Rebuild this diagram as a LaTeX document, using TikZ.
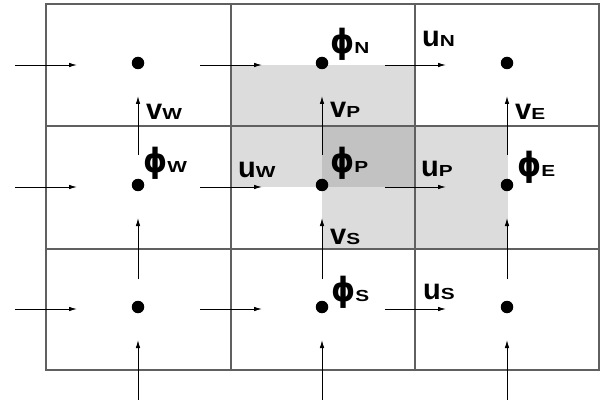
\documentclass[tikz,border=0pt]{standalone}
\usepackage{fontspec}
\setmainfont{Liberation Sans}
\newfontfamily\subf{Liberation Sans}[FakeStretch=1.3]
\newfontfamily\phif{DejaVu Sans}
\usetikzlibrary{arrows.meta}
\definecolor{gridgray}{HTML}{606060}
\definecolor{lightshade}{HTML}{DCDCDC}
\definecolor{darkshade}{HTML}{C2C2C2}
\newcommand\mylab{\fontsize{29}{32}\selectfont\bfseries}
\newcommand\mysub[1]{{\subf\bfseries\fontsize{16}{18}\selectfont #1}}
\newcommand\myphi{\scalebox{1.05}[1.15]{\phif\bfseries\fontsize{29}{32}\selectfont ϕ}}
\tikzset{
  gridline/.style={draw=gridgray, line width=1.4pt},
  flow/.style={-{Latex[length=8pt,width=4.5pt]}, line width=0.9pt, black},
  dotnode/.style={circle, fill=black, minimum size=12.5pt, inner sep=0pt},
  lab/.style={anchor=base west, inner sep=0pt, font=\mylab},
}
\begin{document}
\begin{tikzpicture}[x=1pt,y=-1pt]
\useasboundingbox (0,0) rectangle (600,401);
% shading
\fill[lightshade] (231,65) rectangle (415,187);
\fill[lightshade] (322,126) rectangle (508,249);
\fill[darkshade] (322,126) rectangle (415,187);
% grid
\draw[gridline] (46,4) rectangle (599,370);
\draw[gridline] (231,4) -- (231,370);
\draw[gridline] (415,4) -- (415,370);
\draw[gridline] (46,126) -- (599,126);
\draw[gridline] (46,249) -- (599,249);
% dots
\foreach \i/\x in {1/138,2/322,3/507}{
  \foreach \j/\y in {1/63,2/185,3/307}{
    \node[dotnode] (d\i\j) at (\x,\y) {};
  }
}
% horizontal flow arrows
\foreach \j/\y in {1/65,2/187,3/309}{
  \foreach \k/\xa/\xb in {1/15/77,2/200/262,3/385/446}{
    \coordinate (ha\k\j) at (\xa,\y);
    \coordinate (hb\k\j) at (\xb,\y);
    \draw[flow] (ha\k\j) -- (hb\k\j);
  }
}
% vertical flow arrows
\foreach \i/\x in {1/138,2/322,3/507}{
  \foreach \k/\ya/\yb in {1/155/96,2/279/218,3/400/340}{
    \coordinate (va\i\k) at (\x,\ya);
    \coordinate (vb\i\k) at (\x,\yb);
    \draw[flow] (va\i\k) -- (vb\i\k);
  }
}
% labels
\node[lab] (phiN) at (330,54) {\myphi\mysub{N}};
\node[lab] (uN)   at (422,47) {u\mysub{N}};
\node[lab] (vW)   at (146,120) {v\mysub{W}};
\node[lab] (vP)   at (330,118) {v\mysub{P}};
\node[lab] (vE)   at (515,120) {v\mysub{E}};
\node[lab] (phiW) at (143,173) {\myphi\mysub{W}};
\node[lab] (uW)   at (238,178) {u\mysub{W}};
\node[lab] (phiP) at (330,172) {\myphi\mysub{P}};
\node[lab] (uP)   at (421,176) {u\mysub{P}};
\node[lab] (phiE) at (517,176) {\myphi\mysub{E}};
\node[lab] (vS)   at (330,244) {v\mysub{S}};
\node[lab] (phiS) at (331,301) {\myphi\mysub{S}};
\node[lab] (uS)   at (423,299) {u\mysub{S}};
\end{tikzpicture}
\end{document}
